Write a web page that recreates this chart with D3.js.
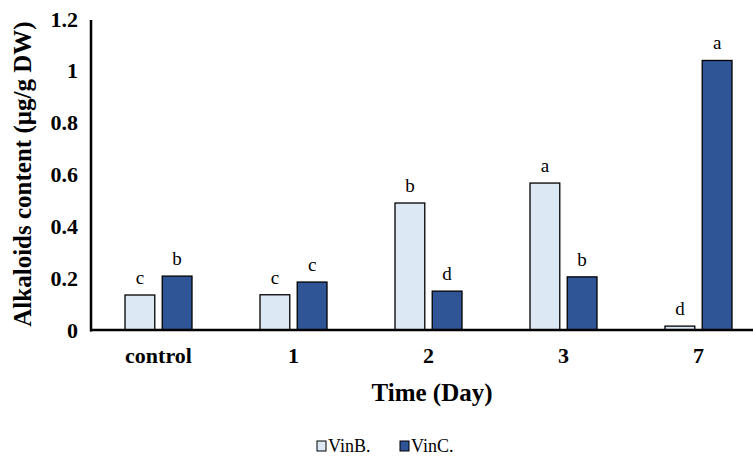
<!DOCTYPE html>
<html>
<head>
<meta charset="utf-8">
<script src="https://cdn.jsdelivr.net/npm/d3@7"></script>
<style>
  body { margin: 0; background: #fff; }
  svg text { font-family: "Times New Roman", "Liberation Serif", Tinos, serif !important; }
</style>
</head>
<body>
<script>
const categories = ["control", "1", "2", "3", "7"]
const seriesNames = ["VinB.", "VinC."]
const vinB = [0.135, 0.136, 0.49, 0.567, 0.015]
const vinC = [0.208, 0.185, 0.15, 0.205, 1.04]
const lettersB = ["c", "c", "b", "a", "d"]
const lettersC = ["b", "c", "d", "b", "a"]
const yTicks = [0, 0.2, 0.4, 0.6, 0.8, 1, 1.2]
const colors = ["#dde8f5", "#2f5597"]

const width = 753, height = 457
const svg = d3.select("body").append("svg")
    .attr("width", width)
    .attr("height", height)

const x = d3.scaleBand()
    .domain(categories)
    .range([91, 766])
    .paddingInner(0)
    .paddingOuter(0)

const inner = d3.scaleBand()
    .domain(seriesNames)
    .range([34, 101])
    .paddingInner(0.2)

const y = d3.scaleLinear()
    .domain([0, 1.2])
    .range([330, 19])

// bars
const rows = categories.map((c, i) => ({
    cat: c,
    vals: [
        {s: seriesNames[0], v: vinB[i], l: lettersB[i], k: 0},
        {s: seriesNames[1], v: vinC[i], l: lettersC[i], k: 1}
    ]
}))

const g = svg.selectAll("g.cat")
    .data(rows)
    .enter()
    .append("g")
    .attr("class", "cat")
    .attr("transform", d => `translate(${x(d.cat)},0)`)

g.selectAll("rect")
    .data(d => d.vals)
    .enter()
    .append("rect")
    .attr("x", d => inner(d.s))
    .attr("y", d => y(d.v))
    .attr("width", inner.bandwidth())
    .attr("height", d => y(0) - y(d.v))
    .attr("fill", d => colors[d.k])
    .attr("stroke", "#000")
    .attr("stroke-width", 1.3)

g.selectAll("text.letter")
    .data(d => d.vals)
    .enter()
    .append("text")
    .attr("class", "letter")
    .attr("x", d => inner(d.s) + inner.bandwidth() / 2)
    .attr("y", d => y(d.v) - 11)
    .attr("text-anchor", "middle")
    .attr("font-size", 19)
    .text(d => d.l)

// axes
const yAxis = d3.axisLeft(y)
    .tickValues(yTicks)
    .tickSize(0)
    .tickPadding(13)
    .tickFormat(d => d3.format("")(+d.toFixed(1)))

const ya = svg.append("g")
    .attr("transform", "translate(91,0)")
    .call(yAxis)
ya.select(".domain").remove()
ya.selectAll("text")
    .attr("font-size", 22)
    .attr("font-weight", "bold")
    .attr("fill", "#000")

svg.append("line")
    .attr("x1", 91).attr("x2", 91)
    .attr("y1", 20).attr("y2", y(0) + 1.5)
    .attr("stroke", "#000")
    .attr("stroke-width", 2.5)

const xAxis = d3.axisBottom(x)
    .tickSize(0)
    .tickPadding(17)

const xa = svg.append("g")
    .attr("transform", `translate(0,${y(0)})`)
    .call(xAxis)
xa.select(".domain").remove()
xa.selectAll("text")
    .attr("font-size", 22)
    .attr("font-weight", "bold")
    .attr("fill", "#000")

svg.append("line")
    .attr("x1", 90).attr("x2", width)
    .attr("y1", y(0)).attr("y2", y(0))
    .attr("stroke", "#000")
    .attr("stroke-width", 2.5)

// titles
svg.append("text")
    .attr("x", 432)
    .attr("y", 401)
    .attr("text-anchor", "middle")
    .attr("font-size", 25)
    .attr("font-weight", "bold")
    .text("Time (Day)")

svg.append("text")
    .attr("transform", "translate(31,174) rotate(-90)")
    .attr("text-anchor", "middle")
    .attr("font-size", 25)
    .attr("font-weight", "bold")
    .text("Alkaloids content (µg/g DW)")

// legend
const legend = svg.append("g")
    .attr("transform", "translate(317,441)")
const lx = [0, 83]
seriesNames.forEach((s, i) => {
    legend.append("rect")
        .attr("x", lx[i])
        .attr("y", 0)
        .attr("width", 9)
        .attr("height", 10)
        .attr("fill", colors[i])
        .attr("stroke", "#000")
        .attr("stroke-width", 1)
    legend.append("text")
        .attr("x", lx[i] + 11)
        .attr("y", 10.5)
        .attr("font-size", 18)
        .text(s)
})
</script>
</body>
</html>
